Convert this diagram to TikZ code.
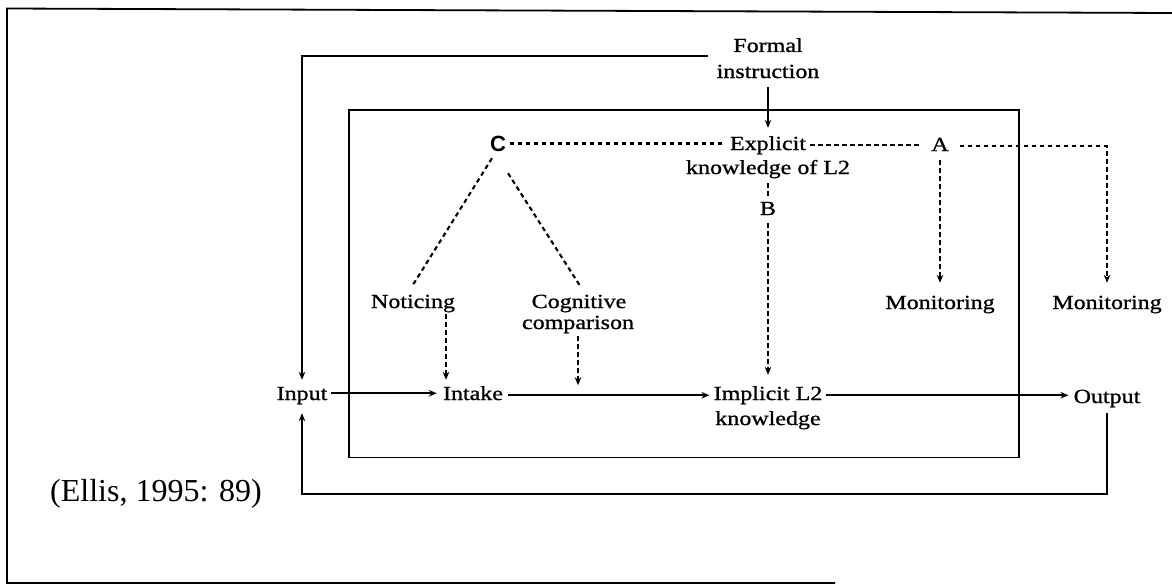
\documentclass[tikz,border=0pt]{standalone}
\usepackage{fontspec}
\setmainfont{Liberation Serif}
\newfontfamily\dfont[FakeStretch=1.2,FakeBold=1]{Liberation Serif}
\newfontfamily\cfont{Liberation Sans}
\usetikzlibrary{arrows.meta,calc}
\begin{document}
\begin{tikzpicture}[x=1pt,y=-1pt,
  lbl/.style={anchor=base,inner sep=0pt,font=\dfont\fontsize{20}{24}\selectfont,text height=14pt,text depth=4.5pt},
  letterc/.style={anchor=base,inner sep=0pt,font=\cfont\bfseries\fontsize{22}{24}\selectfont,text height=15pt,text depth=0pt},
  solidln/.style={line width=1.6pt},
  dashln/.style={line width=2.1pt,dash pattern=on 4.5pt off 3.5pt},
  tip/.style={-{Stealth[length=8pt,width=6.5pt]}}
]
\useasboundingbox (0,0) rectangle (1172,586);
% outer frame and inner box
\draw[line width=1.8pt] (1172,13) -- (7,8.5) -- (7,583) -- (835,583);
\draw[solidln] (349,110) rectangle (1019,457.5);

% texts
\node[lbl] (formal1) at (768,52) {Formal};
\node[lbl] (formal2) at (768,78) {instruction};
\node[lbl] (expl1) at (768,150) {Explicit};
\node[lbl] (expl2) at (768,174) {knowledge of L2};
\node[letterc] (cnode) at (498,151) {C};
\node[lbl] (anode) at (940,151) {A};
\node[lbl] (bnode) at (768,215) {B};
\node[lbl] (noticing) at (413,308) {Noticing};
\node[lbl] (cog1) at (579,308) {Cognitive};
\node[lbl] (cog2) at (578,329) {comparison};
\node[lbl] (mon1) at (940,309) {Monitoring};
\node[lbl] (mon2) at (1107,309) {Monitoring};
\node[lbl] (input) at (302,400) {Input};
\node[lbl] (intake) at (473,400) {Intake};
\node[lbl] (impl1) at (768,400) {Implicit L2};
\node[lbl] (impl2) at (768,425) {knowledge};
\node[lbl] (output) at (1107,403) {Output};
\node[anchor=base west,inner sep=0pt,font=\fontsize{32}{36}\selectfont] (ellis) at (50,501) {(Ellis, 1995: 89)};

% solid connectors
\draw[solidln,tip] ($(formal1.base)+(-60,4)$) -| ($(input.north)+(0,-6)$);
\draw[solidln,tip] ($(output.south)+(0,5.5)$) -- ($(output.south)+(0,86.5)$) -| ($(input.south)+(0,8.5)$);
\draw[solidln,tip] ($(formal2.south)+(0,4.5)$) -- ($(expl1.north)+(0,-8)$);
\draw[solidln,tip] ($(input.east)+(3,-2)$) -- ($(input.east -| intake.west)+(-6,-2)$);
\draw[solidln,tip] ($(intake.east)+(5,0)$) -- ($(intake.east -| impl1.west)+(-4,0)$);
\draw[solidln,tip] ($(impl1.east)+(3,0)$) -- ($(impl1.east -| output.west)+(-5,0)$);

% dashed connectors
\draw[dashln] ($(cnode.east)+(3.5,0)$) -- ($(cnode.east -| expl1.west)+(-5,0)$);
\draw[dashln] ($(expl1.east)+(4,0)$) -- ($(expl1.east -| anode.west)+(-9,0)$);
\draw[dashln,tip] ($(anode.east)+(11,0)$) -| ($(mon2.north)+(0,-12)$);
\draw[dashln,tip] ($(anode.south)+(0,4.5)$) -- ($(mon1.north)+(0,-12)$);
\draw[dashln] ($(expl2.south)+(0,4.5)$) -- ($(bnode.north)+(0,-4)$);
\draw[dashln,tip] ($(bnode.south)+(0,3.5)$) -- ($(impl1.north)+(0,-11)$);
\draw[dashln] ($(cnode.south)+(-6,7)$) -- ($(noticing.north)+(0,-9)$);
\draw[dashln] ($(cnode.south)+(10,22)$) -- ($(cog1.north)+(1,-8)$);
\draw[dashln,tip] ($(noticing.south)+(33,1.5)$) -- ($(intake.north)+(-27,-6)$);
\coordinate (mainline) at (intake.east -| cog2.south);
\draw[dashln,tip] ($(cog2.south)+(0,2.5)$) -- ($(mainline)+(0,-10)$);
\end{tikzpicture}
\end{document}
